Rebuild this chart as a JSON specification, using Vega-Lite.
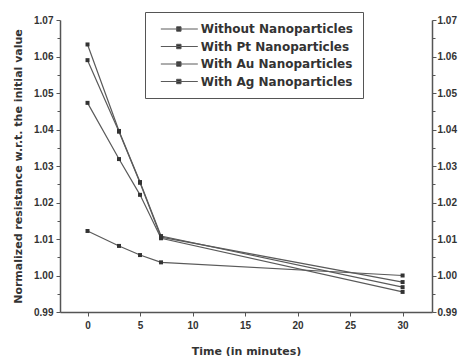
{
  "$schema": "https://vega.github.io/schema/vega-lite/v6.json",
  "width": 372,
  "height": 292,
  "autosize": "none",
  "padding": {"left": 60, "top": 20, "right": 28, "bottom": 44},
  "background": "white",
  "config": {
    "view": {"stroke": null},
    "axis": {
      "domainColor": "#555", "tickColor": "#555", "labelColor": "#333", "titleColor": "#333",
      "labelFont": "Liberation Sans", "labelFontWeight": "bold", "labelFontSize": 10,
      "titleFont": "DejaVu Sans", "titleFontWeight": "bold", "titleFontSize": 11,
      "grid": false, "domainWidth": 1.5, "tickWidth": 1
    }
  },
  "data": {
    "values": [
      {"series": "Without Nanoparticles", "time": 0, "value": 1.0633},
      {"series": "Without Nanoparticles", "time": 3, "value": 1.0396},
      {"series": "Without Nanoparticles", "time": 5, "value": 1.0256},
      {"series": "Without Nanoparticles", "time": 7, "value": 1.0108},
      {"series": "Without Nanoparticles", "time": 30, "value": 0.9968},
      {"series": "With Pt Nanoparticles", "time": 0, "value": 1.0590},
      {"series": "With Pt Nanoparticles", "time": 3, "value": 1.0394},
      {"series": "With Pt Nanoparticles", "time": 5, "value": 1.0254},
      {"series": "With Pt Nanoparticles", "time": 7, "value": 1.0105},
      {"series": "With Pt Nanoparticles", "time": 30, "value": 0.9982},
      {"series": "With Au Nanoparticles", "time": 0, "value": 1.0473},
      {"series": "With Au Nanoparticles", "time": 3, "value": 1.0319},
      {"series": "With Au Nanoparticles", "time": 5, "value": 1.0221},
      {"series": "With Au Nanoparticles", "time": 7, "value": 1.0102},
      {"series": "With Au Nanoparticles", "time": 30, "value": 0.9955},
      {"series": "With Ag Nanoparticles", "time": 0, "value": 1.0122},
      {"series": "With Ag Nanoparticles", "time": 3, "value": 1.0081},
      {"series": "With Ag Nanoparticles", "time": 5, "value": 1.0056},
      {"series": "With Ag Nanoparticles", "time": 7, "value": 1.0036},
      {"series": "With Ag Nanoparticles", "time": 30, "value": 1.0000}
    ]
  },
  "layer": [
    {
      "mark": {"type": "line", "strokeWidth": 1.2},
      "encoding": {
        "x": {
          "field": "time", "type": "quantitative",
          "scale": {"domain": [-2.62, 32.8], "nice": false, "zero": false},
          "axis": {
            "title": "Time (in minutes)",
            "values": [0, 2.5, 5, 7.5, 10, 12.5, 15, 17.5, 20, 22.5, 25, 27.5, 30, 32.5],
            "labelExpr": "round(datum.value * 10) % 50 == 0 ? format(datum.value, '.0f') : ''",
            "labelOverlap": false,
            "labelFlush": false,
            "tickSize": {"condition": {"test": "round(datum.value * 10) % 50 == 0", "value": 4}, "value": 3},
            "labelPadding": 4,
            "titlePadding": 15,
            "titleColor": "#333",
            "labelColor": "#333"
          }
        },
        "y": {
          "field": "value", "type": "quantitative",
          "scale": {"domain": [0.99, 1.07], "nice": false, "zero": false},
          "axis": {
            "orient": "left",
            "title": "Normalized resistance w.r.t. the initial value",
            "values": [0.99, 0.995, 1.0, 1.005, 1.01, 1.015, 1.02, 1.025, 1.03, 1.035, 1.04, 1.045, 1.05, 1.055, 1.06, 1.065, 1.07],
            "labelExpr": "round(datum.value * 1000) % 10 == 0 ? format(datum.value, '.2f') : ''",
            "labelOverlap": false,
            "tickSize": {"condition": {"test": "round(datum.value * 1000) % 10 == 0", "value": 4}, "value": 3},
            "labelPadding": 3,
            "titlePadding": 10,
            "titleColor": "#333"
          }
        },
        "color": {
          "field": "series", "type": "nominal",
          "scale": {
            "domain": ["Without Nanoparticles", "With Pt Nanoparticles", "With Au Nanoparticles", "With Ag Nanoparticles"],
            "range": ["#5a5a5a", "#5a5a5a", "#5a5a5a", "#5a5a5a"]
          },
          "legend": {
            "title": null,
            "orient": "none",
            "legendX": 85,
            "legendY": -8,
            "strokeColor": "#555",
            "fillColor": "white",
            "padding": 10,
            "rowPadding": 4.5,
            "labelFont": "DejaVu Sans",
            "labelFontWeight": "bold",
            "labelFontSize": 12,
            "labelColor": "#333",
            "labelOffset": 31.7,
            "symbolType": "M-0.19,0H5.81M2.37,-0.36H3.09V0.36H2.37Z",
            "symbolSize": 152,
            "symbolStrokeWidth": 1,
            "symbolFillColor": "#333"
          }
        }
      }
    },
    {
      "mark": {"type": "point", "shape": "square", "filled": true, "size": 16, "color": "#333", "opacity": 1},
      "encoding": {
        "x": {"field": "time", "type": "quantitative"},
        "y": {
          "field": "value", "type": "quantitative",
          "axis": {
            "orient": "right",
            "title": null,
            "values": [0.99, 0.995, 1.0, 1.005, 1.01, 1.015, 1.02, 1.025, 1.03, 1.035, 1.04, 1.045, 1.05, 1.055, 1.06, 1.065, 1.07],
            "labelExpr": "round(datum.value * 1000) % 10 == 0 ? format(datum.value, '.2f') : ''",
            "labelOverlap": false,
            "tickSize": {"condition": {"test": "round(datum.value * 1000) % 10 == 0", "value": 4}, "value": 3},
            "labelPadding": 1
          }
        },
        "detail": {"field": "series", "type": "nominal"}
      }
    }
  ],
  "resolve": {"axis": {"y": "independent"}}
}
